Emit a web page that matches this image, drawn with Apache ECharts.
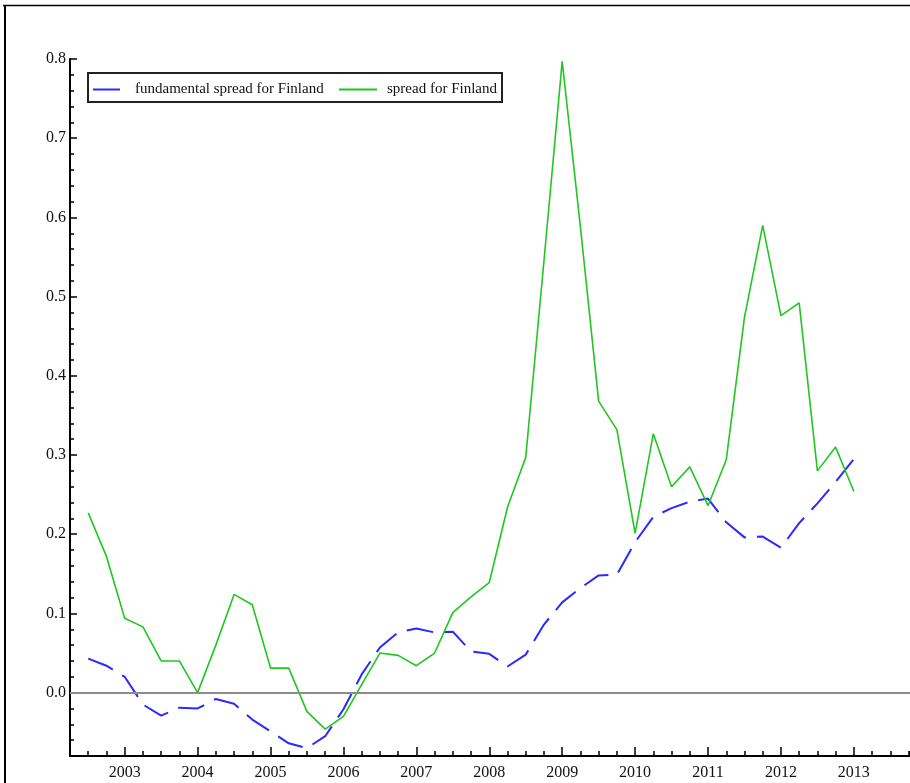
<!DOCTYPE html>
<html>
<head>
<meta charset="utf-8">
<title>Spread for Finland</title>
<script src="https://cdn.jsdelivr.net/npm/echarts@6/dist/echarts.min.js"></script>
<style>
  html, body { margin: 0; padding: 0; background: #ffffff; }
  #chart { width: 910px; height: 783px; }
</style>
</head>
<body>
<div id="chart"></div>
<script>
// Quarterly observation dates (decimal years)
var quarters = [
  2002.5, 2002.75,
  2003.0, 2003.25, 2003.5, 2003.75,
  2004.0, 2004.25, 2004.5, 2004.75,
  2005.0, 2005.25, 2005.5, 2005.75,
  2006.0, 2006.25, 2006.5, 2006.75,
  2007.0, 2007.25, 2007.5, 2007.75,
  2008.0, 2008.25, 2008.5, 2008.75,
  2009.0, 2009.25, 2009.5, 2009.75,
  2010.0, 2010.25, 2010.5, 2010.75,
  2011.0, 2011.25, 2011.5, 2011.75,
  2012.0, 2012.25, 2012.5, 2012.75,
  2013.0
];

// Model-implied (fundamental) spread
var fundamentalSpread = [
  0.043, 0.034,
  0.020, -0.015, -0.029, -0.019,
  -0.020, -0.008, -0.014, -0.034,
  -0.049, -0.064, -0.070, -0.055,
  -0.021, 0.023, 0.057, 0.076,
  0.081, 0.076, 0.077, 0.052,
  0.049, 0.033, 0.048, 0.086,
  0.114, 0.132, 0.148, 0.149,
  0.190, 0.222, 0.233, 0.241,
  0.245, 0.215, 0.196, 0.197,
  0.183, 0.214, 0.239, 0.266,
  0.295
];

// Observed spread
var observedSpread = [
  0.227, 0.172,
  0.094, 0.083, 0.040, 0.040,
  0.000, 0.060, 0.124, 0.111,
  0.031, 0.031, -0.024, -0.046,
  -0.030, 0.010, 0.050, 0.047,
  0.034, 0.050, 0.101, 0.121,
  0.139, 0.234, 0.297, 0.545,
  0.797, 0.588, 0.368, 0.332,
  0.201, 0.327, 0.260, 0.285,
  0.236, 0.294, 0.474, 0.590,
  0.476, 0.492, 0.280, 0.310,
  0.254
];

// Labelled ticks
var yearTicks = [2003, 2004, 2005, 2006, 2007, 2008, 2009, 2010, 2011, 2012, 2013];
var valueTicks = [0.0, 0.1, 0.2, 0.3, 0.4, 0.5, 0.6, 0.7, 0.8];

var seriesNames = ['fundamental spread for Finland', 'spread for Finland'];

function pairs(xs, ys) {
  return xs.map(function (x, i) { return [x, ys[i]]; });
}

var FONT = 'Liberation Serif';
var TEXT = '#111111';
var X_MIN = 2002.25;
var X_MAX = 2013.77;   // axis runs on past the last observation to the page edge

var chart = echarts.init(document.getElementById('chart'), null, { renderer: 'canvas' });

chart.setOption({
  backgroundColor: '#ffffff',
  animation: false,
  grid: { left: 70, top: 59, right: 0, bottom: 27, containLabel: false },
  xAxis: [
    {
      type: 'value', min: X_MIN, max: X_MAX, position: 'bottom',
      axisLine: { show: true, onZero: false, lineStyle: { color: '#000', width: 2 } },
      axisTick: { show: true, inside: true, length: 9, customValues: yearTicks,
                  lineStyle: { color: '#000', width: 1.5 } },
      axisLabel: { show: true, customValues: yearTicks, margin: 9,
                   formatter: function (v) { return String(Math.round(v)); },
                   fontFamily: FONT, fontSize: 16, color: TEXT },
      splitLine: { show: false }
    },
    {
      type: 'value', min: X_MIN, max: X_MAX, interval: 0.25, position: 'bottom',
      axisLine: { show: false, onZero: false },
      axisTick: { show: true, inside: true, length: 5, lineStyle: { color: '#000', width: 1.5 } },
      axisLabel: { show: false },
      splitLine: { show: false }
    }
  ],
  yAxis: [
    {
      type: 'value', min: -0.08, max: 0.8, position: 'left',
      axisLine: { show: true, onZero: false, lineStyle: { color: '#000', width: 2 } },
      axisTick: { show: true, inside: true, length: 7, customValues: valueTicks,
                  lineStyle: { color: '#000', width: 1.5 } },
      axisLabel: { show: true, customValues: valueTicks, margin: 4,
                   formatter: function (v) { return v.toFixed(1); },
                   fontFamily: FONT, fontSize: 16, color: TEXT },
      splitLine: { show: false }
    },
    {
      type: 'value', min: -0.08, max: 0.8, interval: 0.02, position: 'left',
      axisLine: { show: false, onZero: false },
      axisTick: { show: true, inside: true, length: 4, lineStyle: { color: '#000', width: 1.5 } },
      axisLabel: { show: false },
      splitLine: { show: false }
    }
  ],
  legend: [
    {
      data: [seriesNames[0]], left: 93, top: 82, padding: 0, itemGap: 0,
      icon: 'rect', itemWidth: 27, itemHeight: 2, selectedMode: false,
      textStyle: { fontFamily: FONT, fontSize: 15, color: TEXT, padding: [0, 0, 0, 10] }
    },
    {
      data: [seriesNames[1]], left: 339, top: 82, padding: 0, itemGap: 0,
      icon: 'rect', itemWidth: 38, itemHeight: 2, selectedMode: false,
      textStyle: { fontFamily: FONT, fontSize: 15, color: TEXT, padding: [0, 0, 0, 5] }
    }
  ],
  graphic: [
    // page frame (top and left rules)
    { type: 'line', silent: true, shape: { x1: 3, y1: 5.5, x2: 910, y2: 5.5 },
      style: { stroke: '#000', lineWidth: 1.5 } },
    { type: 'line', silent: true, shape: { x1: 5, y1: 5, x2: 5, y2: 783 },
      style: { stroke: '#000', lineWidth: 2 } },
    // legend frame
    { type: 'rect', silent: true, shape: { x: 88, y: 73, width: 414, height: 29 },
      style: { fill: 'none', stroke: '#222', lineWidth: 2 } }
  ],
  series: [
    {
      name: seriesNames[0], type: 'line', xAxisIndex: 0, yAxisIndex: 0,
      data: pairs(quarters, fundamentalSpread),
      symbol: 'none', smooth: false,
      lineStyle: { color: '#2a2aff', width: 2, type: [27, 11] },
      itemStyle: { color: '#2a2aff' },
      markLine: {
        silent: true, symbol: 'none', animation: false,
        label: { show: false },
        lineStyle: { color: '#8c8c8c', width: 2, type: 'solid' },
        data: [{ yAxis: 0 }]
      },
      z: 3
    },
    {
      name: seriesNames[1], type: 'line', xAxisIndex: 0, yAxisIndex: 0,
      data: pairs(quarters, observedSpread),
      symbol: 'none', smooth: false,
      lineStyle: { color: '#1fc81f', width: 1.6, type: 'solid' },
      itemStyle: { color: '#1fc81f' },
      z: 4
    }
  ]
});
</script>
</body>
</html>
